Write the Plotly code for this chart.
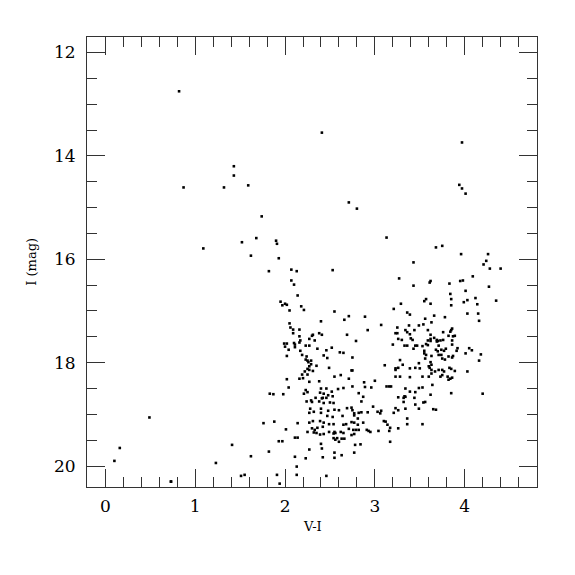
import plotly.graph_objects as go

# Sparse bright / upper stars
vi_upper = [0.82, 2.41, 3.97, 3.94, 3.97, 4.01, 2.71, 2.80,
            1.43, 1.43, 1.59, 0.87, 1.32, 1.74, 1.68, 1.52, 1.90, 1.91, 1.09, 1.62, 1.93, 1.82, 2.07, 2.13,
            3.13, 3.43, 3.27, 3.68]
i_upper = [12.75, 13.55, 13.74, 14.56, 14.63, 14.73, 14.90, 15.02,
           14.20, 14.38, 14.57, 14.61, 14.61, 15.17, 15.59, 15.67, 15.64, 15.70, 15.79, 15.93, 15.98, 16.23, 16.20, 16.23,
           15.58, 16.06, 16.37, 15.77]

# Blue-ish faint stars at lower left
vi_left = [0.16, 0.10, 1.23, 0.73, 0.49]
i_left = [19.65, 19.90, 19.94, 20.30, 19.06]

# Giant branch / left sequence
vi_rgb = [2.53, 2.07, 2.10, 2.14, 1.95, 2.00, 2.02, 1.97, 2.18, 2.21, 2.05, 2.55, 2.71, 2.66, 2.40, 2.05,
          2.06, 2.09, 2.16, 2.09, 2.38, 2.41, 2.30, 2.31, 2.16, 2.27, 2.33, 2.69, 2.17, 1.99, 2.02, 2.10,
          2.11, 2.16, 2.27, 2.23, 2.00, 2.11, 2.52, 2.36, 2.46, 2.04, 2.17, 2.61, 2.65, 2.43, 2.02, 2.19,
          2.47, 2.24, 2.23, 2.25, 2.29, 2.26, 2.29, 2.27, 2.35, 2.49, 2.25,
          2.89, 3.07, 2.92, 2.79, 2.75, 3.11, 2.74, 2.62, 2.71]
i_rgb = [16.21, 16.41, 16.49, 16.70, 16.82, 16.86, 16.88, 16.89, 16.91, 16.98, 16.99, 17.01, 17.10, 17.17, 17.20, 17.24,
         17.32, 17.36, 17.36, 17.43, 17.43, 17.46, 17.48, 17.46, 17.49, 17.54, 17.57, 17.46, 17.57, 17.63, 17.63, 17.62,
         17.65, 17.61, 17.67, 17.67, 17.69, 17.70, 17.71, 17.73, 17.76, 17.75, 17.77, 17.80, 17.81, 17.86, 17.87, 17.85,
         17.91, 17.88, 17.94, 17.96, 17.96, 17.99, 18.03, 18.07, 18.06, 18.10, 18.12,
         17.11, 17.27, 17.37, 17.58, 17.90, 18.05, 18.15, 18.24, 18.31]

# Faint main-sequence-like clump (lower middle)
vi_ms = [2.22, 2.19, 2.25, 2.20, 2.27, 2.02, 2.16, 2.27, 2.04, 2.23, 2.25, 1.83, 1.87, 1.98, 2.21, 2.24,
         2.27, 1.76, 1.88, 2.14, 2.27, 2.01, 2.25, 2.11, 2.14, 1.93, 1.97, 1.41, 1.82, 2.27, 1.62, 2.11,
         2.13, 1.51, 1.55, 1.91, 2.13, 1.94,
         2.31, 2.75, 2.55, 2.38, 2.88, 3.00, 3.13, 3.16, 2.40, 2.46, 2.65, 2.59, 2.75, 2.89, 2.96, 2.39,
         2.43, 2.52, 2.48, 2.53, 2.82, 2.34, 2.41, 2.42, 2.46, 2.87, 2.29, 2.30, 2.38, 2.43, 2.50, 2.54,
         2.85, 2.74, 2.69, 2.98, 2.28, 2.40, 2.48, 2.60, 2.55, 3.07, 3.03, 3.06, 2.75, 2.92, 2.32, 2.85,
         2.82, 2.77, 2.77, 2.40, 2.47, 2.64, 2.53, 2.81, 2.31, 2.39, 2.43, 2.54, 2.74, 2.77, 2.87, 3.10,
         3.12, 2.65, 2.68, 2.49, 2.81, 3.14, 2.30, 2.33, 2.36, 2.42, 2.71, 2.76, 2.79, 2.82, 2.91, 2.95,
         2.93, 3.04, 3.16, 2.32, 2.35, 2.39, 2.43, 2.49, 2.55, 2.54, 2.56, 2.62, 2.65, 2.74, 2.77, 2.54,
         2.58, 2.56, 2.60, 2.63, 2.66, 2.40, 2.78, 2.84, 2.41, 2.77, 2.55, 2.63, 2.42, 2.23, 2.55, 2.46,
         0.73]
i_ms = [18.17, 18.23, 18.23, 18.30, 18.14, 18.32, 18.31, 18.37, 18.48, 18.53, 18.57, 18.60, 18.61, 18.61, 18.60, 18.75,
        18.97, 19.17, 19.14, 19.17, 19.16, 19.29, 19.34, 19.45, 19.45, 19.52, 19.52, 19.59, 19.72, 19.68, 19.81, 19.82,
        20.01, 20.19, 20.17, 20.17, 20.17, 20.34,
        18.16, 18.15, 18.27, 18.36, 18.38, 18.35, 18.46, 18.46, 18.50, 18.50, 18.49, 18.51, 18.46, 18.47, 18.48, 18.58,
        18.60, 18.56, 18.63, 18.65, 18.59, 18.68, 18.69, 18.68, 18.68, 18.66, 18.73, 18.76, 18.75, 18.78, 18.77, 18.78,
        18.75, 18.87, 18.88, 18.85, 18.89, 18.89, 18.93, 18.92, 18.91, 18.93, 18.95, 18.98, 18.92, 18.96, 18.95, 18.96,
        18.97, 18.98, 19.02, 18.97, 19.03, 19.03, 19.05, 19.08, 19.13, 19.13, 19.16, 19.19, 19.15, 19.16, 19.16, 19.13,
        19.14, 19.20, 19.19, 19.19, 19.20, 19.20, 19.27, 19.30, 19.26, 19.24, 19.28, 19.30, 19.30, 19.30, 19.30, 19.34,
        19.32, 19.32, 19.32, 19.35, 19.36, 19.39, 19.38, 19.34, 19.34, 19.37, 19.36, 19.34, 19.36, 19.40, 19.38, 19.46,
        19.46, 19.49, 19.53, 19.47, 19.47, 19.57, 19.59, 19.58, 19.66, 19.74, 19.74, 19.79, 19.83, 19.85, 19.84, 20.19,
        20.30]

# Red clump region (right)
vi_red = [3.43, 3.61, 3.62, 3.83, 3.95, 3.98, 3.84, 4.01, 3.57, 3.55, 3.85, 3.62, 3.85, 3.99, 3.29, 3.21,
          3.36, 3.39, 3.66, 3.56, 4.03, 3.38, 3.49, 3.54, 3.63, 3.25, 3.34, 3.36, 3.44, 3.59, 3.85, 3.25,
          3.23, 3.39, 3.76, 3.84, 3.82, 3.62, 3.89, 3.87, 3.26, 3.30, 3.40, 3.42, 3.62, 3.62, 3.66, 3.69,
          3.76, 3.73, 3.69, 3.70, 3.59, 3.86, 3.20, 3.33, 3.36, 3.45, 3.47, 3.53, 3.57, 3.59, 3.71, 3.86,
          4.05, 3.43, 3.55, 3.68, 3.70, 3.74, 3.77, 3.79, 3.92, 3.91, 3.55, 3.57, 3.71, 3.74, 3.63, 3.87,
          3.86, 3.82, 3.56, 3.75, 3.78, 3.28, 3.62, 3.63, 3.31, 3.49, 3.23, 3.23, 3.26, 3.39, 3.45, 3.50,
          3.60, 3.61, 3.63, 3.71, 3.75, 3.77, 3.83, 3.85, 3.89, 3.63, 3.67, 3.23, 3.28, 3.39, 3.53, 3.60,
          3.73, 3.75, 3.81, 3.84, 3.86, 3.82, 3.64, 3.18, 3.34, 3.49, 3.53, 3.39, 3.45, 3.26, 3.32, 3.33,
          3.34, 3.44, 3.62, 3.85,
          3.32, 3.45, 3.49, 3.54, 3.56, 3.23, 3.26, 3.21, 3.34, 3.65, 3.68, 3.36, 3.36, 3.53, 3.17, 3.26,
          3.17,
          3.75, 3.96, 4.26, 4.24, 4.21, 4.28, 4.40, 4.09, 4.27, 4.12, 4.03, 4.35, 4.14, 4.15, 3.78, 4.16,
          3.86, 4.08, 4.01, 4.18, 4.16, 4.03, 4.20]
i_red = [16.51, 16.45, 16.42, 16.47, 16.42, 16.41, 16.67, 16.61, 16.77, 16.81, 16.77, 16.86, 16.89, 16.83, 16.86, 16.96,
         17.03, 17.07, 17.09, 17.15, 17.05, 17.28, 17.28, 17.26, 17.22, 17.32, 17.37, 17.41, 17.37, 17.37, 17.37, 17.43,
         17.43, 17.45, 17.41, 17.40, 17.48, 17.46, 17.48, 17.49, 17.54, 17.56, 17.53, 17.56, 17.54, 17.58, 17.52, 17.56,
         17.56, 17.57, 17.59, 17.58, 17.57, 17.57, 17.65, 17.67, 17.67, 17.67, 17.67, 17.68, 17.64, 17.66, 17.67, 17.65,
         17.72, 17.73, 17.77, 17.75, 17.78, 17.75, 17.77, 17.73, 17.72, 17.77, 17.82, 17.85, 17.85, 17.85, 17.87, 17.87,
         17.90, 17.88, 17.92, 17.92, 17.94, 17.95, 17.99, 18.04, 18.04, 18.01, 18.14, 18.11, 18.10, 18.11, 18.10, 18.11,
         18.07, 18.10, 18.14, 18.14, 18.14, 18.17, 18.10, 18.12, 18.16, 18.21, 18.17, 18.27, 18.27, 18.28, 18.27, 18.27,
         18.27, 18.24, 18.27, 18.31, 18.29, 18.33, 18.43, 18.46, 18.50, 18.49, 18.48, 18.56, 18.57, 18.67, 18.68, 18.65,
         18.66, 18.68, 18.62, 18.59,
         18.76, 18.81, 18.89, 18.77, 18.76, 18.88, 18.92, 18.97, 18.89, 18.90, 18.91, 19.08, 19.19, 19.19, 19.26, 19.27,
         19.53,
         15.74, 15.90, 15.90, 16.03, 16.10, 16.18, 16.18, 16.33, 16.53, 16.75, 16.79, 16.80, 16.87, 17.05, 17.12, 17.19,
         17.34, 17.76, 17.82, 17.84, 17.96, 18.17, 18.60]

vi = vi_upper + vi_left + vi_rgb + vi_ms + vi_red
imag = i_upper + i_left + i_rgb + i_ms + i_red

x_ticks = [0, 1, 2, 3, 4]
y_ticks = [12, 14, 16, 18, 20]
x_title = "V-I"
y_title = "I (mag)"

fig = go.Figure()
fig.add_trace(go.Scatter(
    x=vi, y=imag, mode="markers",
    marker=dict(symbol="square", size=2.6, color="black", line=dict(width=0)),
    showlegend=False, hoverinfo="skip"))

axis_common = dict(
    showline=True, linecolor="#333333", linewidth=1, mirror="ticks",
    ticks="inside", tickcolor="#333333", tickwidth=1, automargin=False,
    showgrid=False, zeroline=False,
    tickfont=dict(family="DejaVu Serif", size=17, color="black"),
)

fig.update_xaxes(
    range=[-0.205, 4.805], tickmode="array", tickvals=x_ticks,
    ticktext=[str(t) for t in x_ticks], ticklen=18, ticklabelstandoff=4,
    minor=dict(dtick=0.2, tick0=0, ticklen=10, ticks="inside", tickcolor="#333333", tickwidth=1),
    **axis_common)
fig.update_yaxes(
    range=[20.405, 11.70], tickmode="array", tickvals=y_ticks,
    ticktext=[str(t) for t in y_ticks], ticklen=18, ticklabelstandoff=7,
    minor=dict(dtick=0.5, tick0=0, ticklen=10, ticks="inside", tickcolor="#333333", tickwidth=1),
    **axis_common)

fig.add_annotation(text=x_title, xref="paper", yref="paper", x=0.5, y=-0.087,
                   xanchor="center", yanchor="middle", showarrow=False,
                   font=dict(family="DejaVu Serif", size=13, color="black"))
fig.add_annotation(text=y_title, xref="paper", yref="paper", x=-0.125, y=0.5,
                   xanchor="center", yanchor="middle", showarrow=False, textangle=-90,
                   font=dict(family="DejaVu Serif", size=13, color="black"))

fig.update_layout(
    width=567, height=567,
    margin=dict(l=79, r=38, t=29, b=88),
    paper_bgcolor="white", plot_bgcolor="white",
)

fig.write_html("out.html")
